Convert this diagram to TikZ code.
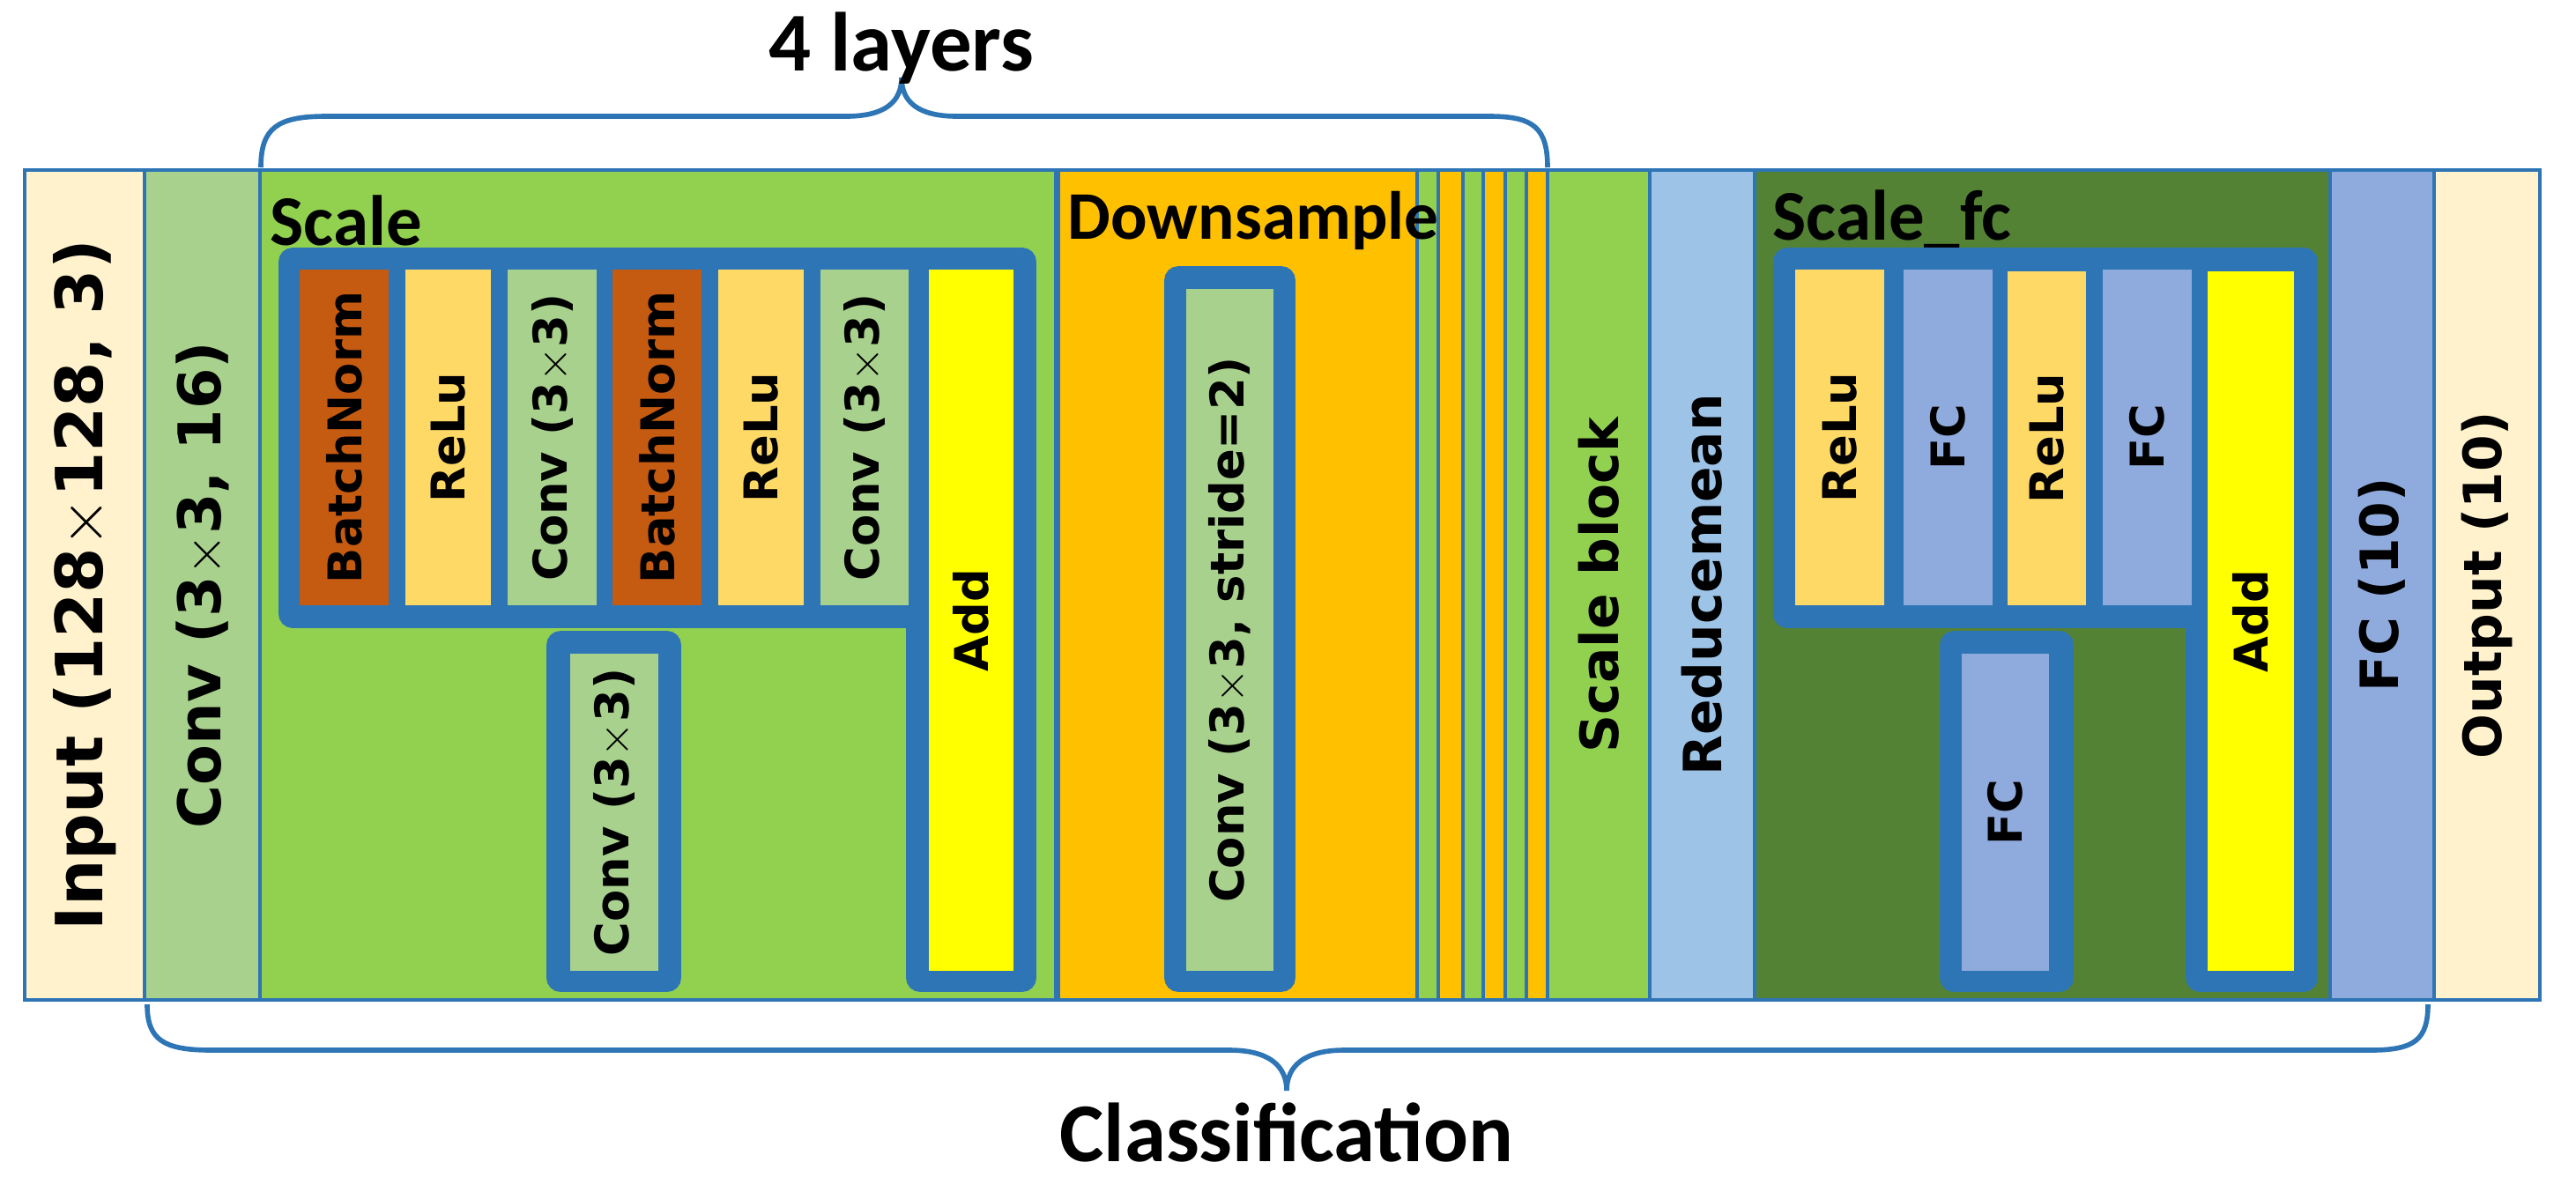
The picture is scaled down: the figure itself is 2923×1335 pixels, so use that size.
\documentclass[tikz,border=0pt]{standalone}
\usepackage{fontspec}
\setmainfont{DejaVu Sans}
\newfontfamily\tfont{Carlito}
\definecolor{cin}{HTML}{FFF2CC}
\definecolor{cconv}{HTML}{A9D18E}
\definecolor{cscale}{HTML}{92D050}
\definecolor{cbn}{HTML}{C55A11}
\definecolor{crelu}{HTML}{FFD966}
\definecolor{cadd}{HTML}{FFFF00}
\definecolor{cds}{HTML}{FFC000}
\definecolor{crm}{HTML}{9DC3E6}
\definecolor{cdark}{HTML}{548235}
\definecolor{cfc}{HTML}{8FAADC}
\definecolor{cblue}{HTML}{2E75B6}
\newcommand{\blk}[7]{\node[box,fill=#6,minimum height={(#4-#2)*0.01cm},minimum width={(#5-#3)*0.01cm}] (#1) at ({(#2+#4)/2},{(#3+#5)/2}) {#7};}
\newcommand{\inb}[7]{\node[ibox,fill=#6,minimum height={(#4-#2)*0.01cm},minimum width={(#5-#3)*0.01cm}] (#1) at ({(#2+#4)/2},{(#3+#5)/2}) {#7};}
\begin{document}
\begin{tikzpicture}[x=0.01cm,y=-0.01cm,
 box/.style={draw=cblue,line width=1.1pt,inner sep=0pt,rotate=90,font=\bfseries\fontsize{17}{17}\selectfont},
 ibox/.style={draw=none,inner sep=0pt,rotate=90,font=\bfseries\fontsize{15}{15}\selectfont},
 frame/.style={draw=cblue,line width=5pt,rounded corners=2pt},
 ttl/.style={anchor=west,font=\tfont\fontsize{23}{23}\selectfont,inner sep=0pt},
 brace/.style={draw=cblue,line width=1.6pt}]
\useasboundingbox (0,0) rectangle (2923,1335);
\blk{inp}{28}{193}{164}{1135}{cin}{\fontsize{21}{21}\selectfont Input (128$\times$128, 3)}
\blk{conv}{164}{193}{295}{1135}{cconv}{\fontsize{19}{19}\selectfont Conv (3$\times$3, 16)}
\blk{scale}{295}{193}{1198}{1135}{cscale}{}
\blk{ds}{1201}{193}{1608}{1135}{cds}{}
\blk{s1}{1608}{193}{1632}{1135}{cscale}{}
\blk{s2}{1632}{193}{1660}{1135}{cds}{}
\blk{s3}{1660}{193}{1683}{1135}{cscale}{}
\blk{s4}{1683}{193}{1708}{1135}{cds}{}
\blk{s5}{1708}{193}{1732}{1135}{cscale}{}
\blk{s6}{1732}{193}{1756}{1135}{cds}{}
\blk{sb}{1756}{193}{1872}{1135}{cscale}{Scale block}
\blk{rm}{1872}{193}{1991}{1135}{crm}{Reducemean}
\blk{sfc}{1991}{193}{2644}{1135}{cdark}{}
\blk{fc10}{2644}{193}{2762}{1135}{cfc}{FC (10)}
\blk{out}{2762}{193}{2882}{1135}{cin}{Output (10)}
\node[ttl,font=\tfont\bfseries\fontsize{23}{23}\selectfont] (tscale) at (306,250) {Scale};
\node[ttl,font=\tfont\bfseries\fontsize{22}{22}\selectfont] (tds) at (1211,250) {Downsample};
\node[ttl,font=\tfont\bfseries\fontsize{23}{23}\selectfont] (tsfc) at (2011,250) {Scale\_fc};
% scale block frames
\path[frame,fill=cblue] (325,290) -- (1167,290) -- (1167,1117) -- (1037,1117) -- (1037,704) -- (325,704) -- cycle;
\inb{bn1}{340}{306}{441}{687}{cbn}{BatchNorm}
\inb{r1}{460}{306}{557}{687}{crelu}{ReLu}
\inb{c1}{576}{306}{677}{687}{cconv}{Conv (3$\times$3)}
\inb{bn2}{695}{306}{796}{687}{cbn}{BatchNorm}
\inb{r2}{815}{306}{912}{687}{crelu}{ReLu}
\inb{c2}{931}{306}{1031}{687}{cconv}{Conv (3$\times$3)}
\inb{add1}{1054}{306}{1150}{1102}{cadd}{Add}
\path[frame,fill=cblue] (629,725) rectangle (764,1117);
\inb{c3}{647}{742}{747}{1102}{cconv}{Conv (3$\times$3)}
% downsample
\path[frame,fill=cblue] (1330,311) rectangle (1461,1117);
\inb{cs}{1346}{328}{1445}{1102}{cconv}{Conv (3$\times$3, stride=2)}
% scale_fc
\path[frame,fill=cblue] (2021,290) -- (2621,290) -- (2621,1117) -- (2489,1117) -- (2489,704) -- (2021,704) -- cycle;
\inb{fr1}{2037}{306}{2138}{687}{crelu}{ReLu}
\inb{f1}{2160}{306}{2261}{687}{cfc}{FC}
\inb{fr2}{2278}{308}{2367}{687}{crelu}{ReLu}
\inb{f2}{2386}{306}{2487}{687}{cfc}{FC}
\inb{add2}{2505}{308}{2603}{1102}{cadd}{Add}
\path[frame,fill=cblue] (2210,725) rectangle (2344,1117);
\inb{f3}{2226}{742}{2325}{1102}{cfc}{FC}
% braces
\draw[brace] (296,190) .. controls (296,145) and (315,132) .. (370,132) -- (960,132) .. controls (1005,132) and (1023,115) .. (1023,88) .. controls (1023,115) and (1041,132) .. (1086,132) -- (1690,132) .. controls (1740,132) and (1756,145) .. (1756,190);
\draw[brace] (167,1140) .. controls (167,1180) and (185,1192) .. (240,1192) -- (1395,1192) .. controls (1440,1192) and (1460,1210) .. (1460,1238) .. controls (1460,1210) and (1480,1192) .. (1525,1192) -- (2690,1192) .. controls (2740,1192) and (2755,1180) .. (2755,1140);
\node[font=\tfont\bfseries\fontsize{27}{27}\selectfont] (lay) at (1023,55) {4 layers};
\node[font=\tfont\bfseries\fontsize{27}{27}\selectfont] (cls) at (1460,1285) {Classification};
\end{tikzpicture}
\end{document}
